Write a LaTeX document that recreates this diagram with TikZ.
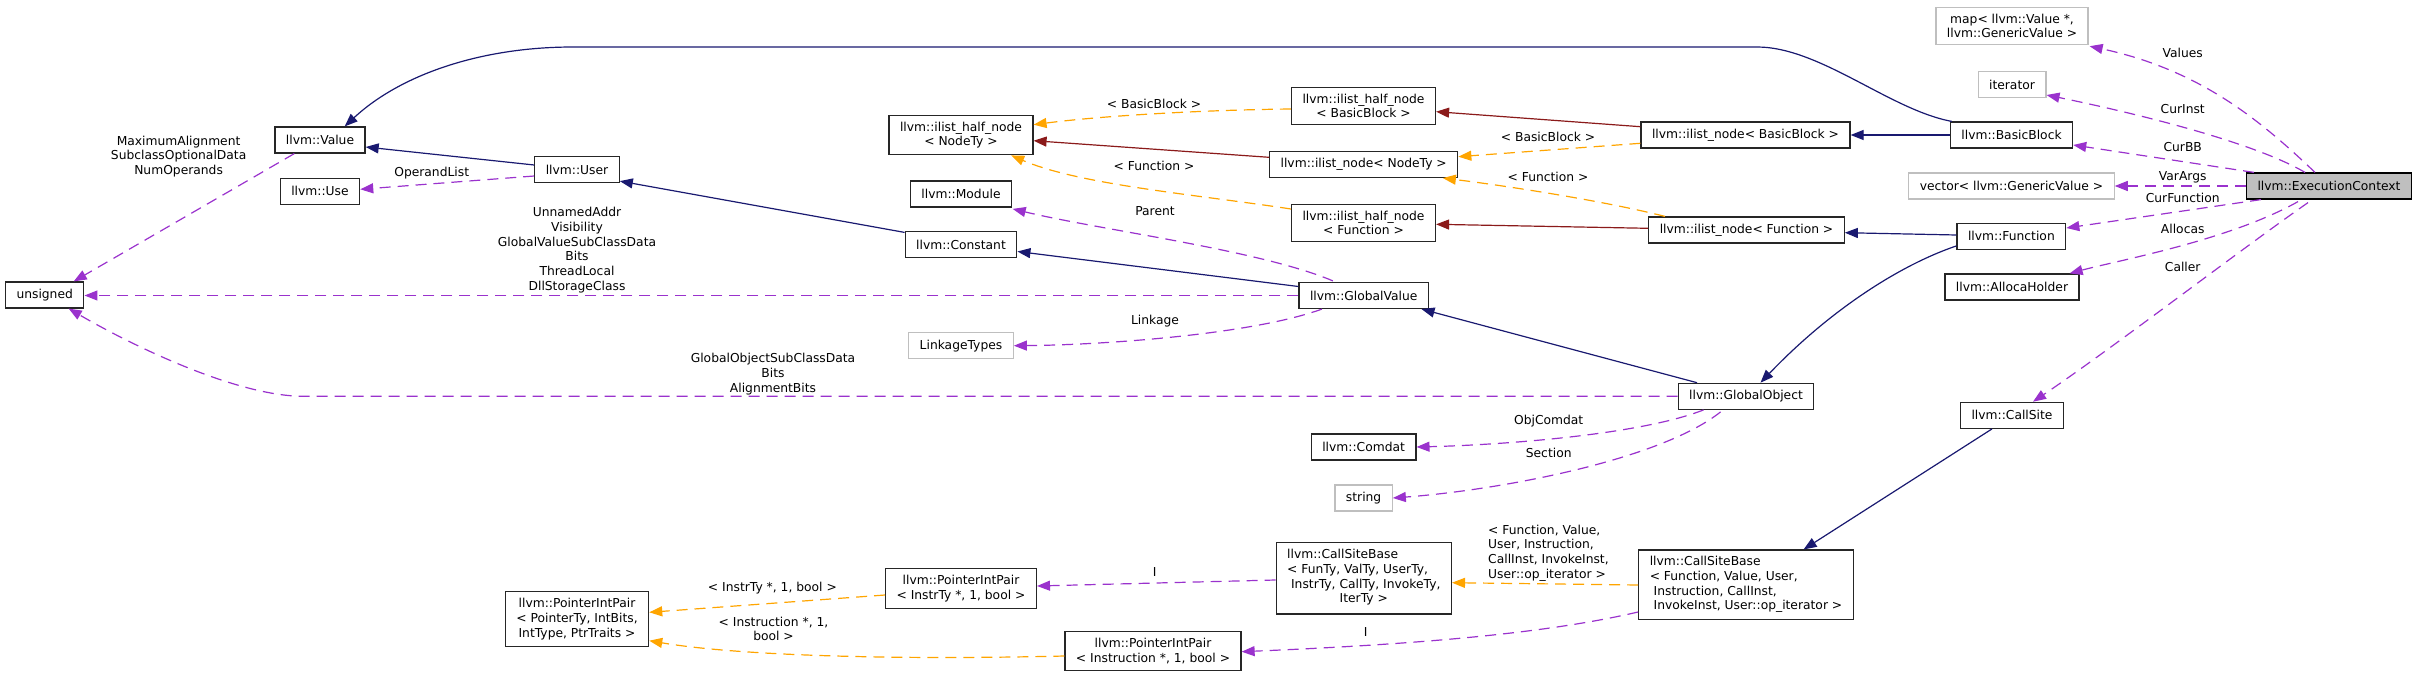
\documentclass[tikz,border=0pt]{standalone}
\usepackage{fontspec}
\setmainfont{DejaVu Sans}
\usetikzlibrary{arrows.meta,calc}
\definecolor{InhBlue}{HTML}{191970}
\definecolor{ProtRed}{HTML}{8B1A1A}
\definecolor{TmplOrange}{HTML}{FFA500}
\definecolor{MemberPurple}{HTML}{9A32CD}
\definecolor{ExtGray}{HTML}{BFBFBF}

\begin{document}
\begin{tikzpicture}[
    x=1pt, y=-1pt,
    font=\fontsize{12.3}{14.7}\selectfont,
    cls/.style={draw=black!85,fill=white,line width=1.2pt,inner xsep=11pt,inner ysep=6.5pt,minimum height=26pt,align=center},
    ext/.style={cls,draw=ExtGray},
    focus/.style={cls,draw=black,fill=ExtGray},
    lbl/.style={inner sep=0pt,align=center},
    tip/.style={-{Triangle[length=13pt,width=10pt]},line width=1.2pt},
    inh/.style={tip,draw=InhBlue},
    prot/.style={tip,draw=ProtRed},
    tmpl/.style={tip,draw=TmplOrange,dash pattern=on 11pt off 7pt},
    member/.style={tip,draw=MemberPurple,dash pattern=on 11pt off 7pt}
  ]
  \useasboundingbox (0,0) rectangle (2419,677);

  % classes
  \node[cls] (unsigned) at (44.7,295) {unsigned};
  \node[cls] (value) at (320,140) {llvm::Value};
  \node[cls] (use) at (320,191.3) {llvm::Use};
  \node[cls] (user) at (577,169.5) {llvm::User};
  \node[cls] (gpip) at (577,619) {llvm::PointerIntPair\\< PointerTy, IntBits,\\IntType, PtrTraits >};
  \node[cls] (halfN) at (961,135) {llvm::ilist\_half\_node\\< NodeTy >};
  \node[cls] (module) at (961,194) {llvm::Module};
  \node[cls] (const) at (961,244.5) {llvm::Constant};
  \node[ext] (linkage) at (961,345.7) {LinkageTypes};
  \node[cls] (pipI) at (961,588.3) {llvm::PointerIntPair\\< InstrTy *, 1, bool >};
  \node[cls] (pipN) at (1153,651) {llvm::PointerIntPair\\< Instruction *, 1, bool >};
  \node[cls] (halfB) at (1363.5,106) {llvm::ilist\_half\_node\\< BasicBlock >};
  \node[cls] (ilnN) at (1363.7,164.5) {llvm::ilist\_node< NodeTy >};
  \node[cls] (halfF) at (1363.5,223) {llvm::ilist\_half\_node\\< Function >};
  \node[cls] (gv) at (1363.7,295.5) {llvm::GlobalValue};
  \node[cls] (comdat) at (1363.6,447) {llvm::Comdat};
  \node[ext] (string) at (1363.6,498) {string};
  \node[cls] (csbT) at (1363.8,578) {\begin{tabular}{@{}l@{}}llvm::CallSiteBase\\< FunTy, ValTy, UserTy,\\\ InstrTy, CallTy, InvokeTy,\\\multicolumn{1}{@{}c@{}}{IterTy >}\end{tabular}};
  \node[cls] (ilnB) at (1745.5,135) {llvm::ilist\_node< BasicBlock >};
  \node[cls] (ilnF) at (1746.5,230) {llvm::ilist\_node< Function >};
  \node[cls] (go) at (1746,396.3) {llvm::GlobalObject};
  \node[cls,align=left] (csbF) at (1746,584.7) {llvm::CallSiteBase\\< Function, Value, User,\\\ Instruction, CallInst,\\\ InvokeInst, User::op\_iterator >};
  \node[ext] (map) at (2012,26) {map< llvm::Value *,\\llvm::GenericValue >};
  \node[ext] (iter) at (2012,84.5) {iterator};
  \node[cls] (bb) at (2011.5,135) {llvm::BasicBlock};
  \node[ext] (vector) at (2011.5,186) {vector< llvm::GenericValue >};
  \node[cls] (func) at (2011.4,236.3) {llvm::Function};
  \node[cls] (alloca) at (2012,287) {llvm::AllocaHolder};
  \node[cls] (callsite) at (2012,415.3) {llvm::CallSite};
  \node[focus] (ec) at (2329,186) {llvm::ExecutionContext};

  % edge labels
  \node[lbl] (lMax) at (178.6,156.5) {MaximumAlignment\\SubclassOptionalData\\NumOperands};
  \node[lbl] (lOperand) at (431.7,173) {OperandList};
  \node[lbl] (lGV) at (577,250) {UnnamedAddr\\Visibility\\GlobalValueSubClassData\\Bits\\ThreadLocal\\DllStorageClass};
  \node[lbl] (lGO) at (773,374) {GlobalObjectSubClassData\\Bits\\AlignmentBits};
  \node[lbl] (lInstrTy) at (772.4,588.3) {< InstrTy *, 1, bool >};
  \node[lbl] (lInstruction) at (773.5,629) {< Instruction *, 1,\\bool >};
  \node[lbl] (lHalfB) at (1154,104) {< BasicBlock >};
  \node[lbl] (lHalfF) at (1154,165.7) {< Function >};
  \node[lbl] (lParent) at (1155,210.7) {Parent};
  \node[lbl] (lLinkage) at (1155,320.7) {Linkage};
  \node[lbl] (lI1) at (1154.6,571.7) {I};
  \node[lbl] (lI2) at (1365.6,632.3) {I};
  \node[lbl] (lNodeB) at (1548,137.3) {< BasicBlock >};
  \node[lbl] (lNodeF) at (1548,176.7) {< Function >};
  \node[lbl] (lComdat) at (1548.7,421) {ObjComdat};
  \node[lbl] (lSection) at (1548.7,453.3) {Section};
  \node[lbl,anchor=west,align=left] (lCSB) at (1488,553) {< Function, Value,\\User, Instruction,\\CallInst, InvokeInst,\\User::op\_iterator >};
  \node[lbl] (lValues) at (2182.7,53) {Values};
  \node[lbl] (lCurInst) at (2182.7,108.7) {CurInst};
  \node[lbl] (lCurBB) at (2182.7,146.7) {CurBB};
  \node[lbl] (lVarArgs) at (2182.7,177.7) {VarArgs};
  \node[lbl] (lCurFunction) at (2182.7,197.7) {CurFunction};
  \node[lbl] (lAllocas) at (2182.7,228.7) {Allocas};
  \node[lbl] (lCaller) at (2182.7,266.7) {Caller};

  % public inheritance
  \draw[inh] ($(user.west)+(0,-4.5)$) -- ($(value.east)+(0,7)$);
  \draw[inh] ($(const.north west)+(0,1.5)$) -- ($(user.south east)+(0,-2)$);
  \draw[inh] ($(gv.west)+(0,-9)$) -- ($(const.east)+(0,7)$);
  \draw[inh] ($(go.north)+(-49,0)$) -- ($(gv.south east)+(-7.5,0)$);
  \draw[inh] ($(func.south west)+(0,-4)$) .. controls (1900,265) and (1830,310) .. ($(go.north)+(14.5,0)$);
  \draw[inh] ($(func.west)+(0,-1.3)$) -- ($(ilnF.east)+(0,2.7)$);
  \draw[inh] (bb.west) -- (ilnB.east);
  \draw[inh] ($(bb.north west)+(2,0)$) .. controls (1890,110) and (1820,47) .. (1757,47)
    -- (573,47) .. controls (480,47) and (400,75) .. ($(value.north east)+(-21,0)$);
  \draw[inh] ($(callsite.south)+(-20,0)$) -- ($(csbF.north)+(57.6,0)$);

  % protected inheritance
  \draw[prot] ($(ilnN.west)+(0,-7.2)$) -- ($(halfN.east)+(0,5.7)$);
  \draw[prot] ($(ilnB.west)+(0,-8.3)$) -- ($(halfB.east)+(0,5.7)$);
  \draw[prot] ($(ilnF.west)+(0,-1.7)$) -- ($(halfF.east)+(0,1.3)$);

  % template instances
  \draw[tmpl] ($(halfB.west)+(0,3)$) .. controls (1200,110) and (1100,116) .. ($(halfN.east)+(0,-10.3)$);
  \draw[tmpl] ($(halfF.west)+(0,-14)$) .. controls (1200,195) and (1080,185) .. ($(halfN.south east)+(-22.4,0)$);
  \draw[tmpl] ($(ilnB.west)+(0,8.3)$) -- ($(ilnN.east)+(0,-7.8)$);
  \draw[tmpl] ($(ilnF.north west)+(16.8,0)$) .. controls (1600,200) and (1500,185) .. ($(ilnN.south east)+(-15.5,0)$);
  \draw[tmpl] ($(pipI.west)+(0,6.7)$) -- ($(gpip.east)+(0,-6.7)$);
  \draw[tmpl] ($(pipN.west)+(0,5)$) .. controls (900,660) and (740,656) .. ($(gpip.east)+(0,21.7)$);
  \draw[tmpl] ($(csbF.west)+(0,0.3)$) -- ($(csbT.east)+(0,4.7)$);

  % members
  \coordinate (gobend) at (303.6,396.3);
  \draw[member] ($(value.south west)+(20,0)$) -- ($(unsigned.north)+(29,0)$);
  \draw[member] ($(user.west)+(0,6.5)$) -- ($(use.east)+(0,-2)$);
  \draw[member] (gv.west) -- (gv.west -| unsigned.east);
  \draw[member] (go.west) -- (gobend) .. controls (240,396.3) and (140,350) .. ($(unsigned.south)+(24,0)$);
  \draw[member] ($(gv.north west)+(34.5,-1)$) .. controls (1260,250) and (1100,230) .. ($(module.south east)+(0.5,1.3)$);
  \draw[member] ($(gv.south west)+(23.5,0)$) .. controls (1250,335) and (1100,345) .. (linkage.east);
  \draw[member] ($(go.south west)+(26,0)$) .. controls (1640,435) and (1500,445) .. (comdat.east);
  \draw[member] ($(go.south west)+(43,2)$) .. controls (1660,460) and (1500,490) .. (string.east);
  \draw[member] ($(csbT.west)+(0,2)$) -- ($(pipI.east)+(0,-2.3)$);
  \draw[member] ($(csbF.south west)+(0,-8)$) .. controls (1540,635) and (1400,645) .. ($(pipN.east)+(0,0.7)$);
  \draw[member] ($(ec.north)+(-14,0)$) .. controls (2260,120) and (2200,70) .. ($(map.south east)+(1,1)$);
  \draw[member] ($(ec.north)+(-24,0)$) .. controls (2250,140) and (2120,110) .. ($(iter.east)+(0,10.5)$);
  \draw[member] ($(ec.north west)+(8,0)$) -- ($(bb.east)+(0,10)$);
  \draw[member] (ec.west) -- (vector.east);
  \draw[member] ($(ec.south west)+(15,0)$) -- ($(func.east)+(0,-8.3)$);
  \draw[member] ($(ec.south)+(-31,2)$) .. controls (2230,240) and (2120,260) .. ($(alloca.north east)+(-10,0)$);
  \draw[member] ($(ec.south)+(-21,3)$) .. controls (2240,250) and (2110,350) .. ($(callsite.north)+(21,0)$);
\end{tikzpicture}
\end{document}
